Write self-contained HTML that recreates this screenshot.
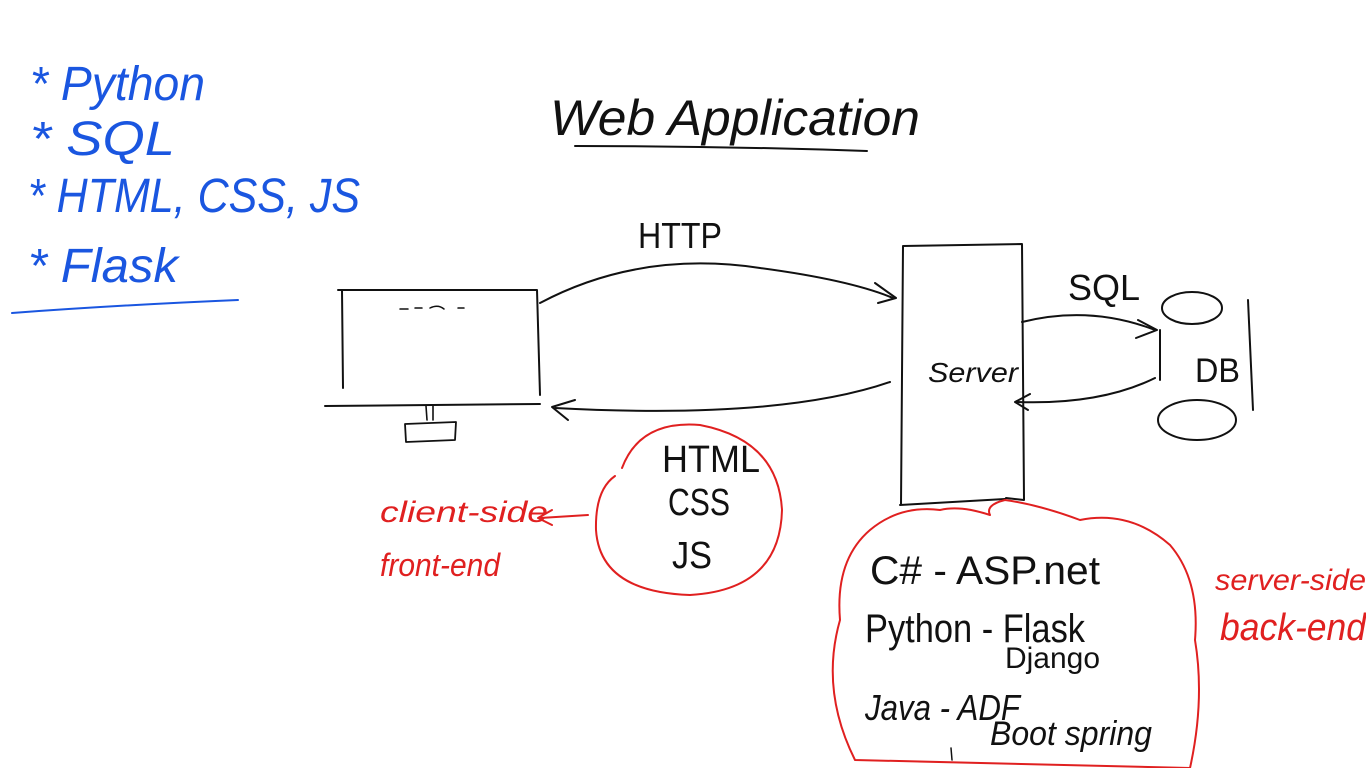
<!DOCTYPE html>
<html><head><meta charset="utf-8"><style>
html,body{margin:0;padding:0;background:#fff;width:1366px;height:768px;overflow:hidden}
svg{display:block}
text{font-family:"Liberation Sans",sans-serif}
</style></head><body>
<svg width="1366" height="768" viewBox="0 0 1366 768" xmlns="http://www.w3.org/2000/svg">
<g fill="none" stroke-linecap="round" stroke-linejoin="round">
<path d="M12 313 Q120 305 238 300" stroke="#1a56e0" stroke-width="2"/>
<path d="M575 146 Q720 146 867 151" stroke="#111" stroke-width="2"/>
<path d="M338 290 L537 290 L540 395 M342 290 L343 388" stroke="#111" stroke-width="2"/>
<path d="M325 406 L540 404" stroke="#111" stroke-width="2"/>
<path d="M426 406 L427 420 M433 406 L433 420" stroke="#111" stroke-width="1.6"/>
<path d="M405 424 L456 422 L455 440 L406 442 Z" stroke="#111" stroke-width="1.8"/>
<path d="M400 309 L408 309 M415 308 L422 308 M430 308 Q438 304 444 309 M458 308 L464 308" stroke="#111" stroke-width="1.5"/>
<path d="M540 303 Q640 250 760 268 Q850 280 893 298" stroke="#111" stroke-width="2"/>
<path d="M875 283 L896 298 L878 303" stroke="#111" stroke-width="2"/>
<path d="M890 382 Q780 420 555 408" stroke="#111" stroke-width="2"/>
<path d="M575 400 L552 407 L568 420" stroke="#111" stroke-width="2"/>
<path d="M903 246 L1022 244 L1024 500 L1006 498 M903 246 L901 505 L900 505 L1005 499" stroke="#111" stroke-width="2"/>
<path d="M1022 322 Q1090 305 1155 330" stroke="#111" stroke-width="2"/>
<path d="M1138 320 L1157 330 L1136 338" stroke="#111" stroke-width="2"/>
<path d="M1155 378 Q1100 405 1017 402" stroke="#111" stroke-width="2"/>
<path d="M1030 394 L1015 402 L1028 410" stroke="#111" stroke-width="2"/>
<ellipse cx="1192" cy="308" rx="30" ry="16" stroke="#111" stroke-width="2"/>
<ellipse cx="1197" cy="420" rx="39" ry="20" stroke="#111" stroke-width="2"/>
<path d="M1160 330 L1160 380 M1248 300 L1253 410" stroke="#111" stroke-width="2"/>
<path d="M622 468 Q640 420 700 425 Q778 440 782 510 Q780 590 690 595 Q600 592 596 530 Q595 490 615 476" stroke="#e02020" stroke-width="2"/>
<path d="M588 515 L540 518 M552 510 L538 518 L552 525" stroke="#e02020" stroke-width="2"/>
<path d="M1005 500 Q985 505 990 515 Q960 505 940 510 Q900 505 870 530 Q835 560 840 620 Q820 690 855 760 L1190 768 Q1205 700 1195 640 Q1200 580 1170 545 Q1130 510 1080 520 Q1040 505 1005 500" stroke="#e02020" stroke-width="2"/>
<path d="M951 748 L952 760" stroke="#111" stroke-width="1.5"/>
</g>
<g fill="#1a56e0" font-size="48" font-style="italic" lengthAdjust="spacingAndGlyphs">
<text x="30" y="100" textLength="175" lengthAdjust="spacingAndGlyphs">* Python</text>
<text x="30" y="155" textLength="145" lengthAdjust="spacingAndGlyphs">* SQL</text>
<text x="28" y="212" textLength="332" lengthAdjust="spacingAndGlyphs">* HTML, CSS, JS</text>
<text x="28" y="282" textLength="150" lengthAdjust="spacingAndGlyphs">* Flask</text>
</g>
<g fill="#111">
<text x="550" y="135" font-size="50" font-style="italic" textLength="370" lengthAdjust="spacingAndGlyphs">Web Application</text>
<text x="638" y="248" font-size="36" textLength="84" lengthAdjust="spacingAndGlyphs">HTTP</text>
<text x="1068" y="300" font-size="36" textLength="72" lengthAdjust="spacingAndGlyphs">SQL</text>
<text x="1195" y="382" font-size="34" textLength="45" lengthAdjust="spacingAndGlyphs">DB</text>
<text x="928" y="382" font-size="28" font-style="italic" textLength="90" lengthAdjust="spacingAndGlyphs">Server</text>
<text x="662" y="472" font-size="38" textLength="98" lengthAdjust="spacingAndGlyphs">HTML</text>
<text x="668" y="515" font-size="38" textLength="62" lengthAdjust="spacingAndGlyphs">CSS</text>
<text x="672" y="568" font-size="38" textLength="40" lengthAdjust="spacingAndGlyphs">JS</text>
<text x="870" y="584" font-size="40" textLength="230" lengthAdjust="spacingAndGlyphs">C# - ASP.net</text>
<text x="865" y="642" font-size="40" textLength="220" lengthAdjust="spacingAndGlyphs">Python - Flask</text>
<text x="1005" y="668" font-size="30" textLength="95" lengthAdjust="spacingAndGlyphs">Django</text>
<text x="865" y="720" font-size="36" font-style="italic" textLength="155" lengthAdjust="spacingAndGlyphs">Java - ADF</text>
<text x="990" y="745" font-size="34" font-style="italic" textLength="162" lengthAdjust="spacingAndGlyphs">Boot spring</text>
</g>
<g fill="#e02020" font-style="italic">
<text x="380" y="522" font-size="30" textLength="168" lengthAdjust="spacingAndGlyphs">client-side</text>
<text x="380" y="576" font-size="32" textLength="120" lengthAdjust="spacingAndGlyphs">front-end</text>
<text x="1215" y="590" font-size="30" textLength="151" lengthAdjust="spacingAndGlyphs">server-side</text>
<text x="1220" y="640" font-size="38" textLength="146" lengthAdjust="spacingAndGlyphs">back-end</text>
</g>
</svg>
</body></html>
